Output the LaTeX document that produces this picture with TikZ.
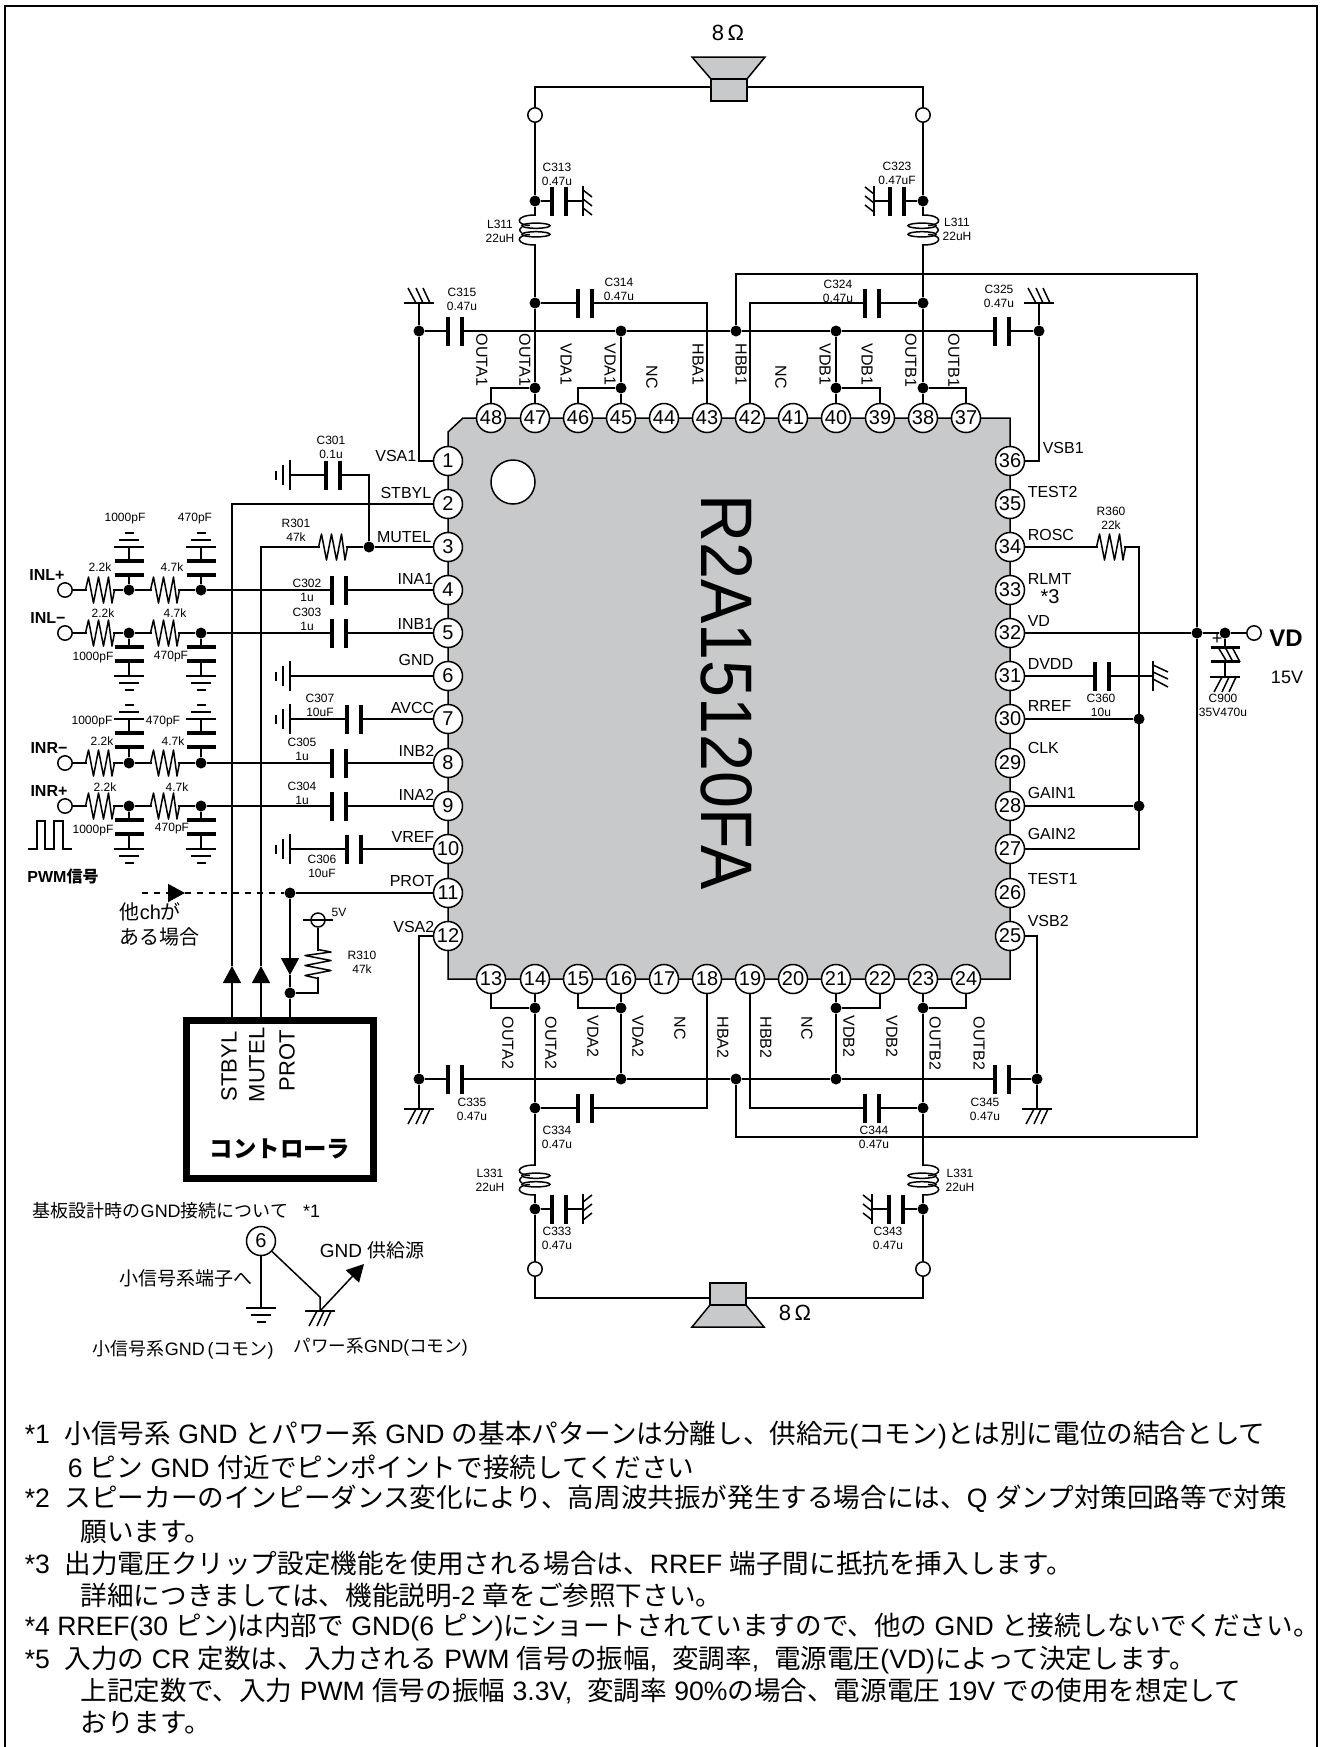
\documentclass[tikz,border=0pt]{standalone}
\usepackage{fontspec}
\setmainfont{Liberation Sans}
\newfontfamily\jp{Noto Sans CJK JP}
\usetikzlibrary{shapes,arrows.meta}
\newcommand{\J}[1]{{\jp #1}}
\definecolor{chipgray}{HTML}{C8C9CA}
\tikzset{
	pinnode/.style={circle, draw, fill=white, inner sep=0pt, minimum size=14.5pt, font=\fontsize{10}{10}\selectfont},
	term/.style={circle, draw, fill=white, inner sep=0pt, minimum size=7.2pt},
	jdot/.style={circle, fill=black, inner sep=0pt, minimum size=5.5pt},
	pinlabl/.style={anchor=east, inner sep=0pt, font=\fontsize{8}{8}\selectfont},
	pinlabr/.style={anchor=west, inner sep=0pt, font=\fontsize{8}{8}\selectfont},
	pinlabv/.style={anchor=west, rotate=-90, inner sep=0pt, font=\fontsize{8}{8}\selectfont},
	val/.style={inner sep=0pt, align=center, font=\fontsize{6}{7}\selectfont},
	inlab/.style={inner sep=0pt, font=\fontsize{8}{8}\selectfont\bfseries},
	jlab/.style={inner sep=0pt, font=\fontsize{9.5}{10}\selectfont},
	ctllab/.style={anchor=west, rotate=90, inner sep=0pt, font=\fontsize{11}{11}\selectfont},
	notes/.style={anchor=west, inner sep=0pt, font=\fontsize{13.3}{13.3}\selectfont},
	tri/.style={-{Triangle[length=8.5pt,width=9pt]}},
	pics/cap/.style={code={
		\fill[white] (-6,-3) rectangle (6,3);
		\draw[line width=1.65pt] (-7,-14.5) -- (-7,14.5);
		\draw[line width=1.65pt] (7,-14.5) -- (7,14.5);
	}},
	pics/resist/.style={code={
		\fill[white] (-13,-2) rectangle (13,2);
		\draw[line join=round] (-14.5,0) -- (-11.5,-13) -- (-6.5,13) -- (-1.5,-13) -- (3.5,13) -- (8.5,-13) -- (12,13) -- (14.5,0);
	}},
	pics/coil/.style={code={
		\fill[white] (-2,-14) rectangle (2,14);
		\draw (0,-15) .. controls (-20,-15) and (-20,-5) .. (-5,-4.5);
		\draw (-5,4.5) .. controls (-20,5) and (-20,15) .. (0,15);
		\draw (-13,-3) .. controls (-16,-1) and (-16,1) .. (-13,3);
		\draw (1,-4.3) ellipse [x radius=14, y radius=2.6];
		\draw (1,4.3) ellipse [x radius=14, y radius=2.6];
	}},
	pics/gndb/.style={code={
		\draw (-15,0) -- (15,0);
		\draw (-10,7) -- (10,7);
		\draw (-4.5,14) -- (4.5,14);
	}},
	pics/gndh/.style={code={
		\draw (-15,0) -- (15,0);
		\draw (-3,0) -- (-11,15);
		\draw (4,0) -- (-3,15);
		\draw (11,0) -- (4,15);
	}},
	pics/gndv/.style={code={
		\draw (-15,0) -- (15,0);
		\draw (11,0) -- (4,9);
		\draw (2,0) -- (-5,9);
		\draw (-7,0) -- (-14,9);
	}},
}

\begin{document}
\begin{tikzpicture}[x=0.5pt,y=-0.5pt,line width=0.75pt]
	\useasboundingbox (0,0) rectangle (1323,1747);
	\draw[line width=1.3pt] (5,1747) -- (5,6) -- (1317,6) -- (1317,1747);
	% chip
	\filldraw[fill=chipgray] (463,418) -- (1010,418) -- (1010,979) -- (448,979) -- (448,432) -- cycle;
	\draw[fill=white] (513,482) circle (22);
	\node[rotate=-90, inner sep=0pt] (chipname) at (727,692) {\scalebox{0.91}[1]{\fontsize{36.5}{37}\selectfont R2A15120FA}};
	% pins
	\node[pinnode] (p1) at (448,461) {1};
	\node[pinnode] (p2) at (448,504) {2};
	\node[pinnode] (p3) at (448,547) {3};
	\node[pinnode] (p4) at (448,590) {4};
	\node[pinnode] (p5) at (448,633) {5};
	\node[pinnode] (p6) at (448,676) {6};
	\node[pinnode] (p7) at (448,719) {7};
	\node[pinnode] (p8) at (448,763) {8};
	\node[pinnode] (p9) at (448,806) {9};
	\node[pinnode] (p10) at (448,849) {10};
	\node[pinnode] (p11) at (448,893) {11};
	\node[pinnode] (p12) at (448,936) {12};
	\node[pinnode] (p13) at (491,979) {13};
	\node[pinnode] (p14) at (535,979) {14};
	\node[pinnode] (p15) at (578,979) {15};
	\node[pinnode] (p16) at (621,979) {16};
	\node[pinnode] (p17) at (664,979) {17};
	\node[pinnode] (p18) at (707,979) {18};
	\node[pinnode] (p19) at (750,979) {19};
	\node[pinnode] (p20) at (793,979) {20};
	\node[pinnode] (p21) at (836,979) {21};
	\node[pinnode] (p22) at (880,979) {22};
	\node[pinnode] (p23) at (923,979) {23};
	\node[pinnode] (p24) at (966,979) {24};
	\node[pinnode] (p25) at (1010,936) {25};
	\node[pinnode] (p26) at (1010,893) {26};
	\node[pinnode] (p27) at (1010,849) {27};
	\node[pinnode] (p28) at (1010,806) {28};
	\node[pinnode] (p29) at (1010,763) {29};
	\node[pinnode] (p30) at (1010,719) {30};
	\node[pinnode] (p31) at (1010,676) {31};
	\node[pinnode] (p32) at (1010,633) {32};
	\node[pinnode] (p33) at (1010,590) {33};
	\node[pinnode] (p34) at (1010,547) {34};
	\node[pinnode] (p35) at (1010,504) {35};
	\node[pinnode] (p36) at (1010,461) {36};
	\node[pinnode] (p37) at (966,418) {37};
	\node[pinnode] (p38) at (923,418) {38};
	\node[pinnode] (p39) at (880,418) {39};
	\node[pinnode] (p40) at (836,418) {40};
	\node[pinnode] (p41) at (793,418) {41};
	\node[pinnode] (p42) at (750,418) {42};
	\node[pinnode] (p43) at (707,418) {43};
	\node[pinnode] (p44) at (664,418) {44};
	\node[pinnode] (p45) at (621,418) {45};
	\node[pinnode] (p46) at (578,418) {46};
	\node[pinnode] (p47) at (535,418) {47};
	\node[pinnode] (p48) at (491,418) {48};
	% terminals
	\node[term] (tt1) at (535,115) {};
	\node[term] (tt2) at (923,115) {};
	\node[term] (tb1) at (535,1269) {};
	\node[term] (tb2) at (923,1269) {};
	\node[term] (tin4) at (65,590) {};
	\node[term] (tin5) at (65,633) {};
	\node[term] (tin8) at (65,763) {};
	\node[term] (tin9) at (65,806) {};
	\node[term] (tvd) at (1254,633) {};
	\node[circle, draw, fill=white, inner sep=0pt, minimum size=7pt] (v5) at (318,920) {};
	% junctions, top
	\node[jdot] (jt1) at (535,201) {};
	\node[jdot] (jt2) at (535,303) {};
	\node[jdot] (jt3) at (535,388) {};
	\node[jdot] (jt4) at (923,201) {};
	\node[jdot] (jt5) at (923,303) {};
	\node[jdot] (jt6) at (923,388) {};
	\node[jdot] (ja) at (419,331) {};
	\node[jdot] (jb) at (621,331) {};
	\node[jdot] (jc) at (736,331) {};
	\node[jdot] (jd) at (836,331) {};
	\node[jdot] (je) at (1039,331) {};
	\node[jdot] (jf) at (621,388) {};
	\node[jdot] (jg) at (836,388) {};
	% junctions, bottom
	\node[jdot] (jb1) at (535,1209) {};
	\node[jdot] (jb2) at (535,1108) {};
	\node[jdot] (jb3) at (535,1008) {};
	\node[jdot] (jb4) at (923,1209) {};
	\node[jdot] (jb5) at (923,1108) {};
	\node[jdot] (jb6) at (923,1008) {};
	\node[jdot] (jh) at (419,1079) {};
	\node[jdot] (ji) at (621,1079) {};
	\node[jdot] (jj) at (736,1079) {};
	\node[jdot] (jk) at (836,1079) {};
	\node[jdot] (jl) at (1037,1079) {};
	\node[jdot] (jm) at (621,1008) {};
	\node[jdot] (jn) at (836,1008) {};
	% junctions, sides
	\node[jdot] (j3) at (369,547) {};
	\node[jdot] (j41) at (129,590) {};
	\node[jdot] (j42) at (201,590) {};
	\node[jdot] (j51) at (129,633) {};
	\node[jdot] (j52) at (201,633) {};
	\node[jdot] (j81) at (129,763) {};
	\node[jdot] (j82) at (201,763) {};
	\node[jdot] (j91) at (129,806) {};
	\node[jdot] (j92) at (201,806) {};
	\node[jdot] (j11) at (290,893) {};
	\node[jdot] (j12) at (290,993) {};
	\node[jdot] (jr1) at (1139,719) {};
	\node[jdot] (jr2) at (1139,806) {};
	\node[jdot] (jv1) at (1197,633) {};
	\node[jdot] (jv2) at (1225,633) {};
	% free ends
	\coordinate (sl1) at (711,87);
	\coordinate (sr1) at (747,87);
	\coordinate (sl2) at (710,1298);
	\coordinate (sr2) at (746,1298);
	\coordinate (g313) at (583,201);
	\coordinate (g323) at (874,201);
	\coordinate (g315) at (419,303);
	\coordinate (g325) at (1039,303);
	\coordinate (g335) at (419,1109);
	\coordinate (g345) at (1037,1109);
	\coordinate (g333) at (583,1209);
	\coordinate (g343) at (872,1209);
	\coordinate (g301) at (290,475);
	\coordinate (g6) at (290,676);
	\coordinate (g307) at (290,719);
	\coordinate (g306) at (290,849);
	\coordinate (g360) at (1153,676);
	\coordinate (g900) at (1225,677);
	\coordinate (a2) at (232,966);
	\coordinate (a3) at (261,966);
	\coordinate (a11) at (290,975);
	\coordinate (c2) at (232,1017);
	\coordinate (c3) at (261,1017);
	\coordinate (c11) at (290,1017);
	\coordinate (d0) at (142,893);
	\coordinate (d1) at (185,893);
	% wires, top
	\draw (tt1) |- (sl1);
	\draw (tt2) |- (sr1);
	\draw (tt1) -- (jt1) -- (jt2) -- (jt3) -- (p47);
	\draw (tt2) -- (jt4) -- (jt5) -- (jt6) -- (p38);
	\draw (jt1) -- (g313);
	\draw (jt4) -- (g323);
	\draw (jt2) -| (p43);
	\draw (jt5) -| (p42);
	\draw (g315) -- (ja) -- (419,461) -- (p1);
	\draw (g325) -- (je) -- (1039,461) -- (p36);
	\draw (ja) -- (jb) -- (jc) -- (jd) -- (je);
	\draw (jb) -- (jf) -- (p45);
	\draw (jd) -- (jg) -- (p40);
	\draw (jt3) -| (p48);
	\draw (jf) -| (p46);
	\draw (jg) -| (p39);
	\draw (jt6) -| (p37);
	\draw (jc) |- (1197,274) -- (jv1) -- (1197,1137) -| (jj);
	% wires, bottom
	\draw (tb1) |- (sl2);
	\draw (tb2) |- (sr2);
	\draw (tb1) -- (jb1) -- (jb2) -- (jb3) -- (p14);
	\draw (tb2) -- (jb4) -- (jb5) -- (jb6) -- (p23);
	\draw (jb1) -- (g333);
	\draw (jb4) -- (g343);
	\draw (jb2) -| (p18);
	\draw (jb5) -| (p19);
	\draw (g335) -- (jh) -- (419,936) -- (p12);
	\draw (g345) -- (jl) -- (1037,936) -- (p25);
	\draw (jh) -- (ji) -- (jj) -- (jk) -- (jl);
	\draw (ji) -- (jm) -- (p16);
	\draw (jk) -- (jn) -- (p21);
	\draw (jb3) -| (p13);
	\draw (jm) -| (p15);
	\draw (jn) -| (p22);
	\draw (jb6) -| (p24);
	% wires, left
	\draw[tri] (c2) -- (a2);
	\draw (a2) |- (p2);
	\draw[tri] (c3) -- (a3);
	\draw (a3) |- (j3);
	\draw (j3) -- (p3);
	\draw (j3) |- (g301);
	\draw (tin4) -- (j41) -- (j42) -- (p4);
	\draw (tin5) -- (j51) -- (j52) -- (p5);
	\draw (tin8) -- (j81) -- (j82) -- (p8);
	\draw (tin9) -- (j91) -- (j92) -- (p9);
	\draw (j41) -- (129,547);
	\draw (j42) -- (201,547);
	\draw (j51) -- (129,676);
	\draw (j52) -- (201,676);
	\draw (j81) -- (129,719);
	\draw (j82) -- (201,719);
	\draw (j91) -- (129,849);
	\draw (j92) -- (201,849);
	\draw (g6) -- (p6);
	\draw (g307) -- (p7);
	\draw (g306) -- (p10);
	\draw (j11) -- (p11);
	\draw[tri, dashed] (d0) -- (d1);
	\draw[dashed] (d1) -- (j11);
	\draw[tri] (j11) -- (a11);
	\draw (a11) -- (j12) -- (c11);
	\draw (j12) -| (v5);
	\draw (303,920) -- (333,920);
	% wires, right
	\draw (p34) -| (1139,849) -- (p27);
	\draw (p30) -- (jr1);
	\draw (p28) -- (jr2);
	\draw (p31) -- (g360);
	\draw (p32) -- (jv1) -- (jv2) -- (tvd);
	\draw (jv2) -- (g900);
	% speakers
	\filldraw[fill=chipgray] (692,57) -- (765,57) -- (747,79) -- (711,79) -- cycle;
	\filldraw[fill=chipgray] (711,79) rectangle (747,101);
	\filldraw[fill=chipgray] (692,1327) -- (764,1327) -- (746,1305) -- (710,1305) -- cycle;
	\filldraw[fill=chipgray] (710,1283) rectangle (746,1305);
	% controller
	\draw[line width=3.4pt] (186.5,1020.5) rectangle (373.5,1178.5);
	% capacitors
	\pic at (559,201) {cap};
	\pic at (897,201) {cap};
	\pic at (585,303) {cap};
	\pic at (872,303) {cap};
	\pic at (455,331) {cap};
	\pic at (1002,331) {cap};
	\pic at (455,1079) {cap};
	\pic at (1002,1079) {cap};
	\pic at (585,1108) {cap};
	\pic at (872,1108) {cap};
	\pic at (559,1209) {cap};
	\pic at (896,1209) {cap};
	\pic at (333,475) {cap};
	\pic at (339,590) {cap};
	\pic at (339,633) {cap};
	\pic at (354,719) {cap};
	\pic at (339,763) {cap};
	\pic at (339,806) {cap};
	\pic at (354,849) {cap};
	\pic at (1102,676) {cap};
	\pic[rotate=90] at (129,568) {cap};
	\pic[rotate=90] at (201,568) {cap};
	\pic[rotate=90] at (129,654) {cap};
	\pic[rotate=90] at (201,654) {cap};
	\pic[rotate=90] at (129,740) {cap};
	\pic[rotate=90] at (201,740) {cap};
	\pic[rotate=90] at (129,827) {cap};
	\pic[rotate=90] at (201,827) {cap};
	\pic[rotate=90] at (1225,654.5) {cap};
	\draw (1218,647) -- (1227,662);
	\draw (1225,647) -- (1233,662);
	\draw (1232,647) -- (1240,662);
	% resistors
	\pic at (333,547) {resist};
	\pic at (100,590) {resist};
	\pic at (165,590) {resist};
	\pic at (100,633) {resist};
	\pic at (165,633) {resist};
	\pic at (100,763) {resist};
	\pic at (165,763) {resist};
	\pic at (100,806) {resist};
	\pic at (165,806) {resist};
	\pic at (1111,547) {resist};
	\pic[rotate=90] at (318,964) {resist};
	% coils
	\pic at (535,230) {coil};
	\pic[xscale=-1] at (923,230) {coil};
	\pic at (535,1180) {coil};
	\pic[xscale=-1] at (923,1180) {coil};
	% grounds
	\pic at (129,676) {gndb};
	\pic at (201,676) {gndb};
	\pic at (129,849) {gndb};
	\pic at (201,849) {gndb};
	\pic[rotate=180] at (129,547) {gndb};
	\pic[rotate=180] at (201,547) {gndb};
	\pic[rotate=180] at (129,719) {gndb};
	\pic[rotate=180] at (201,719) {gndb};
	\pic[rotate=-90] at (g301) {gndb};
	\pic[rotate=-90] at (g6) {gndb};
	\pic[rotate=-90] at (g307) {gndb};
	\pic[rotate=-90] at (g306) {gndb};
	\pic[rotate=90] at (g313) {gndv};
	\pic[rotate=-90] at (g323) {gndv};
	\pic[yscale=-1] at (g315) {gndh};
	\pic[yscale=-1] at (g325) {gndh};
	\pic at (g335) {gndh};
	\pic at (g345) {gndh};
	\pic[rotate=90,xscale=-1] at (g333) {gndv};
	\pic[rotate=-90] at (g343) {gndv};
	\pic[rotate=90] at (g360) {gndh};
	\pic at (g900) {gndh};
	% pin names, left
	\node[pinlabl] (nvsa1) at (417,456) {VSA1};
	\node[pinlabl] (nstbyl) at (432,493) {STBYL};
	\node[pinlabl] (nmutel) at (432,537) {MUTEL};
	\node[pinlabl] (nina1) at (434,579) {INA1};
	\node[pinlabl] (ninb1) at (434,624) {INB1};
	\node[pinlabl] (ngnd) at (435,660) {GND};
	\node[pinlabl] (navcc) at (435,708) {AVCC};
	\node[pinlabl] (ninb2) at (435,751) {INB2};
	\node[pinlabl] (nina2) at (435,795) {INA2};
	\node[pinlabl] (nvref) at (435,837) {VREF};
	\node[pinlabl] (nprot) at (435,881) {PROT};
	\node[pinlabl] (nvsa2) at (435,927) {VSA2};
	% pin names, right
	\node[pinlabr] (nvsb1) at (1042,448) {VSB1};
	\node[pinlabr] (ntest2) at (1027,492) {TEST2};
	\node[pinlabr] (nrosc) at (1027,535) {ROSC};
	\node[pinlabr] (nrlmt) at (1027,579) {RLMT};
	\node[inner sep=0pt, font=\fontsize{10}{10}\selectfont] (nstar3) at (1050,597) {*3};
	\node[pinlabr] (nvd) at (1027,621) {VD};
	\node[pinlabr] (ndvdd) at (1027,664) {DVDD};
	\node[pinlabr] (nrref) at (1027,706) {RREF};
	\node[pinlabr] (nclk) at (1027,748) {CLK};
	\node[pinlabr] (ngain1) at (1027,793) {GAIN1};
	\node[pinlabr] (ngain2) at (1027,834) {GAIN2};
	\node[pinlabr] (ntest1) at (1027,879) {TEST1};
	\node[pinlabr] (nvsb2) at (1027,921) {VSB2};
	% pin names, top
	\node[pinlabv] (nouta1a) at (482,333) {OUTA1};
	\node[pinlabv] (nouta1b) at (525,333) {OUTA1};
	\node[pinlabv] (nvda1a) at (566,343) {VDA1};
	\node[pinlabv] (nvda1b) at (610,343) {VDA1};
	\node[pinlabv] (nnc1) at (652,365) {NC};
	\node[pinlabv] (nhba1) at (698,343) {HBA1};
	\node[pinlabv] (nhbb1) at (741,343) {HBB1};
	\node[pinlabv] (nnc2) at (781,365) {NC};
	\node[pinlabv] (nvdb1a) at (825,343) {VDB1};
	\node[pinlabv] (nvdb1b) at (867,343) {VDB1};
	\node[pinlabv] (noutb1a) at (911,333) {OUTB1};
	\node[pinlabv] (noutb1b) at (954,333) {OUTB1};
	% pin names, bottom
	\node[pinlabv] (nouta2a) at (508,1016) {OUTA2};
	\node[pinlabv] (nouta2b) at (551,1016) {OUTA2};
	\node[pinlabv] (nvda2a) at (593,1015) {VDA2};
	\node[pinlabv] (nvda2b) at (638,1015) {VDA2};
	\node[pinlabv] (nnc3) at (680,1016) {NC};
	\node[pinlabv] (nhba2) at (723,1016) {HBA2};
	\node[pinlabv] (nhbb2) at (766,1016) {HBB2};
	\node[pinlabv] (nnc4) at (807,1016) {NC};
	\node[pinlabv] (nvdb2a) at (849,1015) {VDB2};
	\node[pinlabv] (nvdb2b) at (892,1015) {VDB2};
	\node[pinlabv] (noutb2a) at (935,1016) {OUTB2};
	\node[pinlabv] (noutb2b) at (979,1016) {OUTB2};
	% part values
	\node[val] (lc313) at (557,174) {C313\\0.47u};
	\node[val] (lc323) at (897,173) {C323\\0.47uF};
	\node[val] (ll311a) at (500,231) {L311\\22uH};
	\node[val] (ll311b) at (957,229) {L311\\22uH};
	\node[val] (lc314) at (619,289) {C314\\0.47u};
	\node[val] (lc315) at (462,299) {C315\\0.47u};
	\node[val] (lc324) at (838,291) {C324\\0.47u};
	\node[val] (lc325) at (999,296) {C325\\0.47u};
	\node[val] (lc335) at (472,1109) {C335\\0.47u};
	\node[val] (lc345) at (985,1109) {C345\\0.47u};
	\node[val] (lc334) at (557,1137) {C334\\0.47u};
	\node[val] (lc344) at (874,1137) {C344\\0.47u};
	\node[val] (ll331a) at (490,1180) {L331\\22uH};
	\node[val] (ll331b) at (960,1180) {L331\\22uH};
	\node[val] (lc333) at (557,1238) {C333\\0.47u};
	\node[val] (lc343) at (888,1238) {C343\\0.47u};
	\node[val] (lc301) at (331,447) {C301\\0.1u};
	\node[val] (lr301) at (296,530) {R301\\47k};
	\node[val] (lc302) at (307,590) {C302\\1u};
	\node[val] (lc303) at (307,619) {C303\\1u};
	\node[val] (lc307) at (320,705) {C307\\10uF};
	\node[val] (lc305) at (302,749) {C305\\1u};
	\node[val] (lc304) at (302,793) {C304\\1u};
	\node[val] (lc306) at (322,866) {C306\\10uF};
	\node[val] (lr310) at (362,962) {R310\\47k};
	\node[val] (l5v) at (339,912) {5V};
	\node[val] (lr360) at (1111,518) {R360\\22k};
	\node[val] (lc360) at (1101,705) {C360\\10u};
	\node[val] (lc900) at (1223,705) {C900\\35V470u};
	\node[inner sep=0pt, font=\fontsize{9}{9}\selectfont] (lplus) at (1217,639) {+};
	\node[val] (lca1) at (125,519) {1000pF};
	\node[val] (lca2) at (195,519) {470pF};
	\node[val] (lra1) at (100,567) {2.2k};
	\node[val] (lra2) at (172,567) {4.7k};
	\node[val] (lrb1) at (103,613) {2.2k};
	\node[val] (lrb2) at (175,613) {4.7k};
	\node[val] (lcb1) at (93,658) {1000pF};
	\node[val] (lcb2) at (171,657) {470pF};
	\node[val] (lcc1) at (92,722) {1000pF};
	\node[val] (lcc2) at (163,722) {470pF};
	\node[val] (lrc1) at (102,741) {2.2k};
	\node[val] (lrc2) at (173,741) {4.7k};
	\node[val] (lrd1) at (105,787) {2.2k};
	\node[val] (lrd2) at (177,787) {4.7k};
	\node[val] (lcd1) at (93,831) {1000pF};
	\node[val] (lcd2) at (172,829) {470pF};
	% input names
	\node[inlab] (linl1) at (47,575) {INL+};
	\node[inlab] (linl2) at (48,618) {INL−};
	\node[inlab] (linr1) at (49,748) {INR−};
	\node[inlab] (linr2) at (49,791) {INR+};
	\draw (28,849) -- (37,849) -- (37,821) -- (45,821) -- (45,849) -- (54,849) -- (54,821) -- (63,821) -- (63,849) -- (72,849);
	\node[inlab] (lpwm) at (63,876) {PWM{\jp 信号}};
	\node[inner sep=0pt, anchor=west, font=\fontsize{10}{10}\selectfont] (lother1) at (119,912) {\J{他}ch\J{が}};
	\node[inner sep=0pt, anchor=west, font=\fontsize{10}{10}\selectfont] (lother2) at (119,937) {\J{ある場合}};
	% controller text
	\node[ctllab] (lstbyl) at (229,1102) {STBYL};
	\node[ctllab] (lmutel) at (257,1103) {MUTEL};
	\node[ctllab] (lprot) at (287,1092) {PROT};
	\node[inner sep=0pt, font=\fontsize{11.7}{12}\selectfont\bfseries] (lctl) at (280,1149) {\J{コントローラ}};
	% speaker and supply text
	\node[inner sep=0pt, font=\fontsize{11}{11}\selectfont] (ls1) at (728,33) {8\,Ω};
	\node[inner sep=0pt, font=\fontsize{11}{11}\selectfont] (ls2) at (795,1313) {8\,Ω};
	\node[inner sep=0pt, font=\fontsize{12}{12}\selectfont\bfseries] (lvd) at (1286,638) {VD};
	\node[inner sep=0pt, font=\fontsize{9}{9}\selectfont] (l15v) at (1287,677) {15V};
	% GND wiring note
	\node[jlab, anchor=west, font=\fontsize{9}{10}\selectfont] (lgnd0) at (32,1211) {\J{基板設計時の}GND\J{接続について}\ \ \ *1};
	\node[pinnode] (q6) at (261,1241) {6};
	\coordinate (qg1) at (261,1308);
	\coordinate (qk) at (320,1297);
	\coordinate (qg2) at (320,1311);
	\coordinate (qa) at (364,1264);
	\draw (q6) -- (qg1);
	\draw (q6) -- (qk) -- (qg2);
	\draw[tri] (qg2) -- (qa);
	\pic at (qg1) {gndb};
	\pic at (qg2) {gndh};
	\node[jlab] (lgnd1) at (372,1250) {GND \J{供給源}};
	\node[jlab, anchor=east] (lgnd2) at (253,1278) {\J{小信号系端子へ}};
	\node[jlab, anchor=west, font=\fontsize{9}{10}\selectfont] (lgnd3) at (92,1350) {\J{小信号系}GND\,(\J{コモン})};
	\node[jlab, anchor=west, font=\fontsize{8.8}{10}\selectfont] (lgnd4) at (293,1347) {\J{パワー系}GND(\J{コモン})};
	% notes
	\node[notes] (n1) at (24,1435) {*1\ \ \J{小信号系} GND \J{とパワー系} GND \J{の基本パターンは分離し、供給元}(\J{コモン})\J{とは別に電位の結合として}};
	\node[notes] (n2) at (67,1467) {6 \J{ピン} GND \J{付近でピンポイントで接続してください}};
	\node[notes] (n3) at (24,1499) {*2\ \ \J{スピーカーのインピーダンス変化により、高周波共振が発生する場合には、}Q \J{ダンプ対策回路等で対策}};
	\node[notes] (n4) at (80,1532) {\J{願います。}};
	\node[notes] (n5) at (24,1563) {*3\ \ \J{出力電圧クリップ設定機能を使用される場合は、}RREF \J{端子間に抵抗を挿入します。}};
	\node[notes] (n6) at (80,1595) {\J{詳細につきましては、機能説明}-2 \J{章をご参照下さい。}};
	\node[notes] (n7) at (24,1627) {*4 RREF(30 \J{ピン})\J{は内部で} GND(6 \J{ピン})\J{にショートされていますので、他の} GND \J{と接続しないでください。}};
	\node[notes] (n8) at (24,1660) {*5\ \ \J{入力の} CR \J{定数は、入力される} PWM \J{信号の振幅},\ \ \J{変調率},\ \ \J{電源電圧}(VD)\J{によって決定します。}};
	\node[notes] (n9) at (80,1691) {\J{上記定数で、入力} PWM \J{信号の振幅} 3.3V,\ \ \J{変調率} 90\%\J{の場合、電源電圧} 19V \J{での使用を想定して}};
	\node[notes] (n10) at (80,1723) {\J{おります。}};
\end{tikzpicture}
\end{document}
